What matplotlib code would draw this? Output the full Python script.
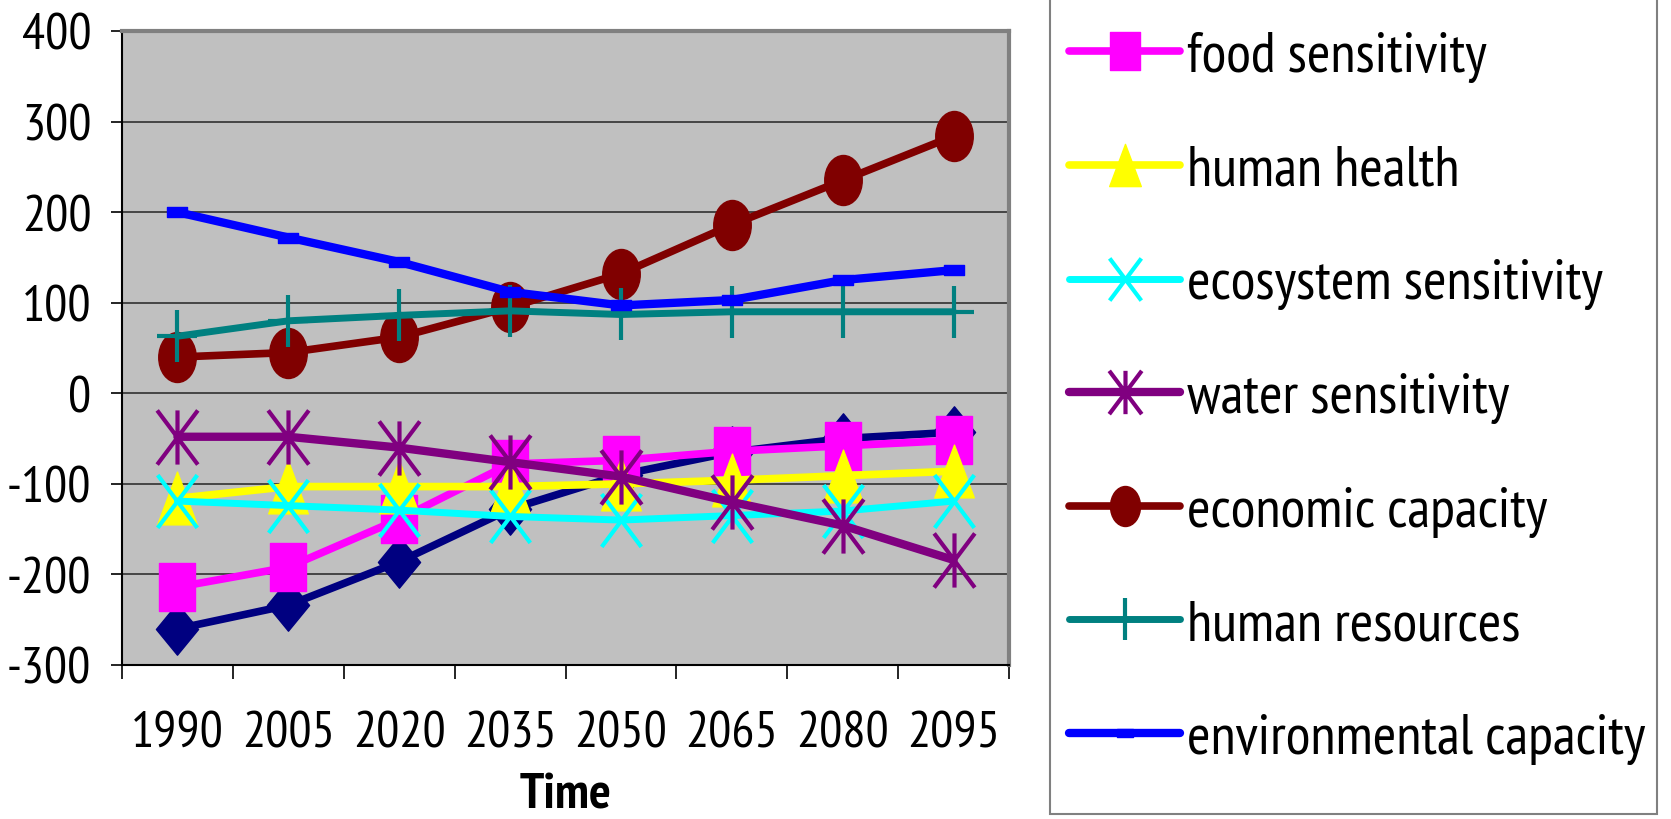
import numpy as np
import matplotlib
matplotlib.use("Agg")
import matplotlib.pyplot as plt
import matplotlib.font_manager as fm
from matplotlib.path import Path
from matplotlib.patches import Rectangle
from matplotlib.transforms import Affine2D

years = ["1990", "2005", "2020", "2035", "2050", "2065", "2080", "2095"]

series1 = [-260, -234, -186, -128, -90, -65, -50, -43]
food = [-214, -192, -139, -78, -74, -64, -58, -52]
health = [-116, -103, -103, -103, -100, -96, -91, -86]
ecosystem = [-119, -124, -129, -136, -140, -135, -130, -119]
water = [-48, -48, -60, -76, -92, -120, -146, -184]
economic = [40, 45, 62, 95, 132, 186, 235, 284]
resources = [63, 80, 86, 91, 87, 90, 90, 90]
environmental = [200, 172, 145, 112, 97, 103, 125, 136]

# a narrow sans face with a bold cut, as close to Arial Narrow as is installed
weights = {}
for f in fm.fontManager.ttflist:
    weights.setdefault(f.name, set()).add(f.weight)
candidates = ["Liberation Sans Narrow", "Arial Narrow", "Archivo Narrow", "PT Sans Narrow",
              "Roboto Condensed", "Fira Sans Condensed", "Encode Sans Condensed",
              "Asap Condensed", "Barlow Semi Condensed", "IBM Plex Sans Condensed",
              "Pragati Narrow"]
family = next((n for n in candidates
               if n in weights and any(w in (700, "bold") for w in weights[n])),
              "Liberation Sans")
plt.rcParams["font.family"] = family
plt.rcParams["axes.unicode_minus"] = False

# markers are a bit taller than wide
sq = 0.75


def closed(verts):
    verts = list(verts) + [verts[0]]
    codes = [Path.MOVETO] + [Path.LINETO] * (len(verts) - 2) + [Path.CLOSEPOLY]
    return Path(verts, codes)


def strokes(segs):
    verts, codes = [], []
    for a, b in segs:
        verts += [a, b]
        codes += [Path.MOVETO, Path.LINETO]
    return Path(verts, codes)


diamond = closed([(0, 1), (0.82, 0), (0, -1), (-0.82, 0)])
square = closed([(-sq, -1), (sq, -1), (sq, 1), (-sq, 1)])
triangle = closed([(0, 1), (sq, -1), (-sq, -1)])
ellipse = Path.unit_circle().transformed(Affine2D().scale(sq, 1))
cross = strokes([((-sq, -1), (sq, 1)), ((-sq, 1), (sq, -1))])
star = strokes([((-sq, -1), (sq, 1)), ((-sq, 1), (sq, -1)), ((0, -1), (0, 1))])
plus = strokes([((-sq, 0), (sq, 0)), ((0, -1), (0, 1))])
dash = closed([(-1, -0.5), (1, -0.5), (1, 0.5), (-1, 0.5)])

fig = plt.figure(figsize=(16.71, 8.20), dpi=100)
ax = fig.add_axes([122 / 1671, 1 - 666 / 820, 887 / 1671, 634 / 820])
ax.set_facecolor("#C0C0C0")

x = np.arange(len(years))
style = dict(solid_capstyle="round", solid_joinstyle="round")

ax.plot(x, series1, color="#000080", lw=5.5, marker=diamond, ms=37,
        mfc="#000080", mec="#000080", **style)
l_food, = ax.plot(x, food, color="#FF00FF", lw=5.5, marker=square, ms=35,
                  mfc="#FF00FF", mec="#FF00FF", label="food sensitivity", **style)
l_health, = ax.plot(x, health, color="#FFFF00", lw=5.5, marker=triangle, ms=38,
                    mfc="#FFFF00", mec="#FFFF00", label="human health", **style)
l_eco, = ax.plot(x, ecosystem, color="#00FFFF", lw=5, marker=cross, ms=38,
                 mfc="none", mec="#00FFFF", mew=3, label="ecosystem sensitivity", **style)
l_water, = ax.plot(x, water, color="#800080", lw=6, marker=star, ms=39,
                   mfc="none", mec="#800080", mew=3, label="water sensitivity", **style)
l_econ, = ax.plot(x, economic, color="#800000", lw=5.5, marker=ellipse, ms=36,
                  mfc="#800000", mec="#800000", label="economic capacity", **style)
l_res, = ax.plot(x, resources, color="#008080", lw=5, marker=plus, ms=38,
                 mfc="none", mec="#008080", mew=3, label="human resources", **style)
l_env, = ax.plot(x, environmental, color="#0000FF", lw=6, marker=dash, ms=15,
                 mfc="#0000FF", mec="#0000FF", label="environmental capacity", **style)

ax.set_xlim(-0.5, len(years) - 0.5)
ax.set_ylim(-300, 400)
ax.set_yticks(np.arange(-300, 401, 100))
ax.yaxis.grid(True, color="#303030", lw=1.2)
ax.set_axisbelow(True)

ax.set_xticks(x)
ax.set_xticklabels(years)
ax.set_xticks(np.arange(-0.5, len(years), 1), minor=True)
ax.tick_params(axis="x", which="major", length=0, pad=33, labelsize=37)
ax.tick_params(axis="x", which="minor", length=10, width=1.2, direction="out")
ax.tick_params(axis="y", length=8, width=1.2, pad=14, labelsize=37)

for side in ("left", "bottom"):
    ax.spines[side].set_color("black")
    ax.spines[side].set_linewidth(1.5)
for side in ("top", "right"):
    ax.spines[side].set_color("#808080")
    ax.spines[side].set_linewidth(3)

ax.set_xlabel("Time", fontsize=37, fontweight="bold")
ax.xaxis.set_label_coords(0.5, -0.205)
ax.xaxis.label.set_va("center")

# legend box runs off the top edge of the figure
fig.patches.append(Rectangle((1050 / 1671, 5 / 820), 607 / 1671, 1.0,
                             transform=fig.transFigure, facecolor="white",
                             edgecolor="#808080", lw=1.5, zorder=0))

handles = [l_food, l_health, l_eco, l_water, l_econ, l_res, l_env]
leg = fig.legend(handles=handles, loc="lower left",
                 bbox_to_anchor=(1069 / 1671, 55 / 820),
                 fontsize=41, markerscale=0.8, frameon=False,
                 handlelength=1.95, handletextpad=0.12, labelspacing=1.1,
                 borderpad=0, borderaxespad=0)

fig.savefig("out.png", dpi=100)
